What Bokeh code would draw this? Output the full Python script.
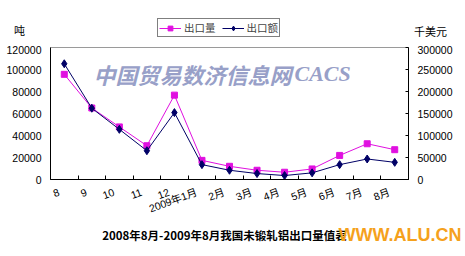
from bokeh.plotting import figure
from bokeh.layouts import column
from bokeh.models import (Range1d, LinearAxis, FixedTicker, Label, Legend, LegendItem,
                          BasicTickFormatter)
from bokeh.embed import file_html
from bokeh.resources import INLINE

# ---- data ----
months = ["8", "9", "10", "11", "12", "2009年1月", "2月", "3月", "4月", "5月", "6月", "7月", "8月"]
qty = [95600, 65000, 47800, 30700, 76700, 17400, 12000, 8400, 6600, 9600, 21900, 32500, 27100]      # 出口量 (吨)
val = [263000, 162000, 114000, 65400, 152000, 33800, 21000, 13500, 9000, 15100, 33800, 46600, 39000]  # 出口额 (千美元)
left_ticks = [0, 20000, 40000, 60000, 80000, 100000, 120000]
right_ticks = [0, 50000, 100000, 150000, 200000, 250000, 300000]
series_names = ["出口量", "出口额"]
unit_left = "吨"
unit_right = "千美元"
title_text = "2008年8月-2009年8月我国未锻轧铝出口量值表"
watermark_cn = "中国贸易数济信息网"
watermark_en = "CACS"
site_text = "WWW.ALU.CN"

CAT = 10
n = len(months)
xc = [i * CAT + CAT / 2 for i in range(n)]
label_pos = [i * CAT + 3 for i in range(n)]
bounds = [i * CAT for i in range(n + 1)]

FONT = "Liberation Sans, Noto Sans CJK SC"
CJK = "Noto Sans CJK SC"
W = 465
HEAD_H, MAIN_H, FOOT_H = 45, 177, 34
mag = "#e010e0"
navy = "#000066"
NAN = [float("nan")]


def blank(h):
    f = figure(width=W, height=h, output_backend="svg", toolbar_location=None,
               x_range=Range1d(0, W), y_range=Range1d(0, h),
               x_axis_location=None, y_axis_location=None, frame_align=False,
               min_border=0, min_border_left=0, min_border_right=0,
               min_border_top=0, min_border_bottom=0)
    f.xgrid.visible = False
    f.ygrid.visible = False
    f.outline_line_color = None
    f.background_fill_color = "white"
    f.border_fill_color = "white"
    return f


# ---- main chart ----
p = figure(width=W, height=MAIN_H, output_backend="svg", toolbar_location=None,
           x_range=Range1d(0, n * CAT), y_range=Range1d(0, left_ticks[-1]), frame_align=False,
           min_border_left=50, min_border_right=57, min_border_top=2, min_border_bottom=42)
p.extra_y_ranges = {"val": Range1d(0, right_ticks[-1])}
p.xgrid.visible = False
p.ygrid.visible = False
p.outline_line_color = "#9a9a9a"
p.background_fill_color = "white"
p.border_fill_color = "white"

xa = p.xaxis[0]
xa.ticker = FixedTicker(ticks=label_pos, minor_ticks=bounds)
xa.major_label_overrides = {pos: m for pos, m in zip(label_pos, months)}
xa.major_label_orientation = 0.35
xa.major_tick_in = 0
xa.major_tick_out = 0
xa.minor_tick_in = 4
xa.minor_tick_out = 0
xa.minor_tick_line_color = "black"
xa.axis_line_color = "black"
xa.major_label_standoff = 12
xa.major_label_text_font = FONT
xa.major_label_text_font_size = "10.5px"
xa.major_label_text_color = "black"

ya = p.yaxis[0]
ya.ticker = FixedTicker(ticks=left_ticks)
ya.formatter = BasicTickFormatter(use_scientific=False)
ya.major_tick_in = 0
ya.major_tick_out = 0
ya.minor_tick_in = 0
ya.minor_tick_out = 0
ya.axis_line_color = "black"
ya.major_label_standoff = 9
ya.major_label_text_font = FONT
ya.major_label_text_font_size = "10.5px"
ya.major_label_text_color = "black"

ra = LinearAxis(y_range_name="val", ticker=FixedTicker(ticks=right_ticks),
                formatter=BasicTickFormatter(use_scientific=False))
ra.major_tick_in = 3
ra.major_tick_out = 0
ra.minor_tick_in = 0
ra.minor_tick_out = 0
ra.axis_line_color = "black"
ra.major_label_standoff = 9
ra.major_label_text_font = FONT
ra.major_label_text_font_size = "10.5px"
ra.major_label_text_color = "black"
p.add_layout(ra, "right")

# watermark (behind data)
p.add_layout(Label(x=43, y=106, x_units="screen", y_units="screen", text=watermark_cn,
                   text_font=CJK, text_font_size="22px", text_font_style="bold italic",
                   text_color="#98a0c8", text_baseline="middle", text_align="left", level="underlay"))
p.add_layout(Label(x=244, y=106, x_units="screen", y_units="screen", text=watermark_en,
                   text_font="Liberation Serif", text_font_size="22px", text_font_style="bold italic",
                   text_color="#98a0c8", text_baseline="middle", text_align="left", level="underlay"))

p.line(xc, qty, line_color=mag, line_width=1)
p.scatter(xc, qty, marker="square", size=6, fill_color=mag, line_color=mag)
p.line(xc, val, y_range_name="val", line_color=navy, line_width=1)
p.scatter(xc, val, y_range_name="val", marker="diamond", size=8, fill_color=navy, line_color=navy)

# ---- header: units + legend ----
h = blank(HEAD_H)
l1 = h.line(NAN, NAN, line_color=mag, line_width=1)
s1 = h.scatter(NAN, NAN, marker="square", size=6, fill_color=mag, line_color=mag)
l2 = h.line(NAN, NAN, line_color=navy, line_width=1)
s2 = h.scatter(NAN, NAN, marker="diamond", size=8, fill_color=navy, line_color=navy)
legend = Legend(items=[LegendItem(label=series_names[0], renderers=[l1, s1]),
                       LegendItem(label=series_names[1], renderers=[l2, s2])],
                location=(157, 8), orientation="horizontal",
                border_line_color="black", border_line_width=1,
                background_fill_color="white", background_fill_alpha=1,
                padding=1, spacing=6, label_standoff=3, glyph_width=22, glyph_height=12,
                label_height=12, label_text_font=CJK, label_text_font_size="10.5px", margin=0)
h.add_layout(legend)
h.add_layout(Label(x=19, y=16, text=unit_left, text_font=CJK, text_font_size="11px",
                   text_align="center", text_baseline="middle", text_color="black"))
h.add_layout(Label(x=430, y=15, text=unit_right, text_font=CJK, text_font_size="11px",
                   text_align="center", text_baseline="middle", text_color="black"))

# ---- footer: title + site mark ----
ft = blank(FOOT_H)
ft.add_layout(Label(x=224, y=22, text=title_text, text_font=CJK, text_font_size="11.5px",
                    text_font_style="bold", text_align="center", text_baseline="middle",
                    text_color="black"))
ft.add_layout(Label(x=338, y=22, text=site_text, text_font="Liberation Sans",
                    text_font_size="18px", text_font_style="bold", text_align="left",
                    text_baseline="middle", text_color="#f5a11c"))

layout = column(h, p, ft, spacing=0)
open("out.html", "w").write(file_html(layout, INLINE))
